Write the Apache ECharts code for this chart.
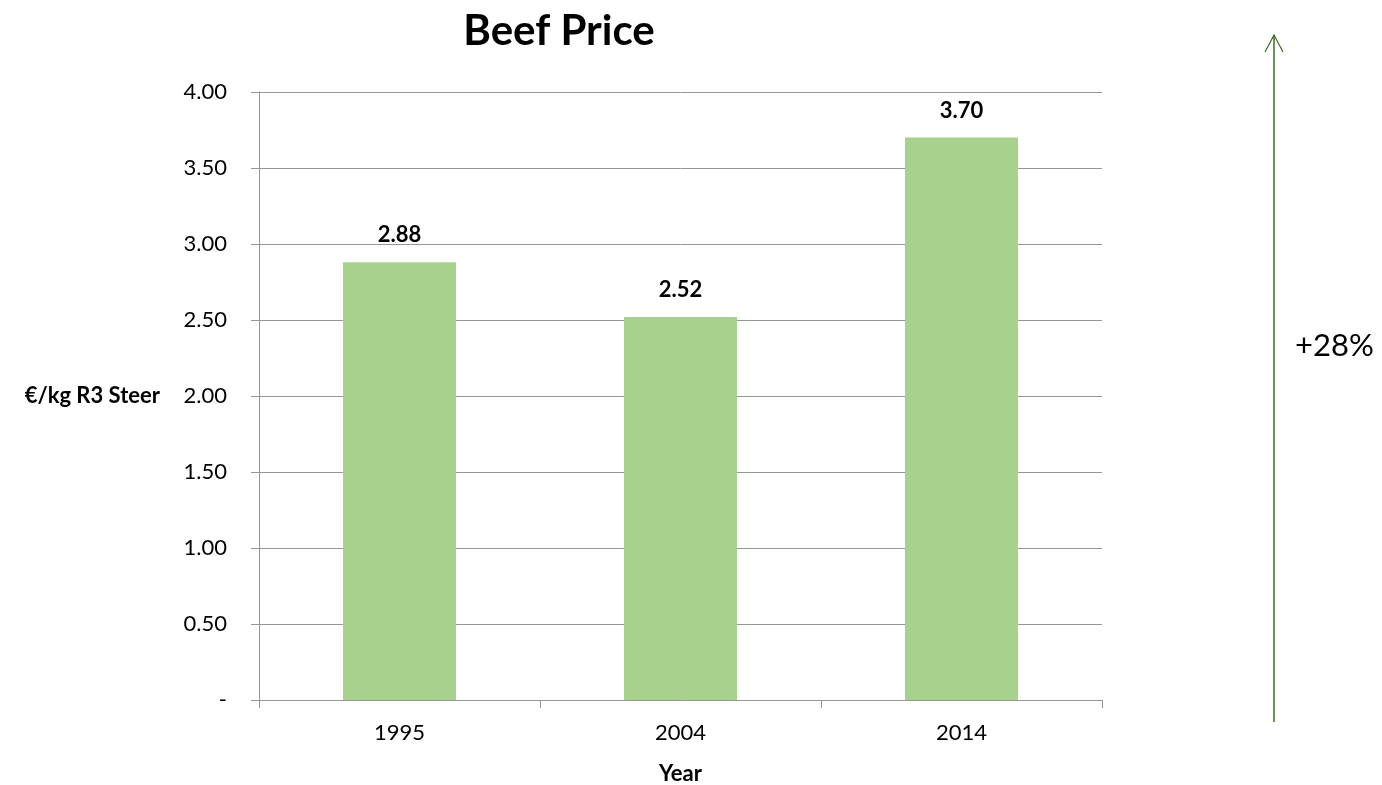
<!DOCTYPE html>
<html>
<head>
<meta charset="utf-8">
<script src="https://cdn.jsdelivr.net/npm/echarts@6/dist/echarts.min.js"></script>
<style>
  html, body { margin: 0; padding: 0; background: #fff; }
  #chart { width: 1382px; height: 785px; }
</style>
</head>
<body>
<div id="chart"></div>
<script>
  // data
  var years = ['1995', '2004', '2014'];
  var prices = [2.88, 2.52, 3.70];
  var changeText = '+28%';

  var font = 'Lato, "Open Sans", sans-serif';
  var myChart = echarts.init(document.getElementById('chart'));

  var options = {
    backgroundColor: '#fff',
    animation: false,
    title: {
      text: 'Beef Price',
      left: 554,
      top: 5,
      textAlign: 'center',
      textStyle: { fontFamily: font, fontSize: 42, fontWeight: 'bold', color: '#000' }
    },
    grid: { left: 259, right: 280, top: 92, bottom: 85, outerBoundsMode: 'none', containLabel: false },
    xAxis: {
      type: 'category',
      data: years,
      name: 'Year',
      nameLocation: 'middle',
      nameGap: 63,
      nameTextStyle: { fontFamily: font, fontSize: 22, fontWeight: 'bold', color: '#000' },
      axisLine: { lineStyle: { color: '#969696', width: 1 } },
      axisTick: { show: true, length: 8, alignWithLabel: false, lineStyle: { color: '#969696' } },
      axisLabel: { fontFamily: font, fontSize: 22, color: '#000', margin: 22 }
    },
    yAxis: {
      type: 'value',
      min: 0,
      max: 4,
      interval: 0.5,
      name: '€/kg R3 Steer',
      nameLocation: 'middle',
      nameRotate: 0,
      nameGap: 99,
      nameTextStyle: { fontFamily: font, fontSize: 22, fontWeight: 'bold', color: '#000', align: 'right' },
      axisLine: { show: true, lineStyle: { color: '#969696', width: 1 } },
      axisTick: { show: true, length: 8, inside: false, lineStyle: { color: '#969696' } },
      splitLine: { lineStyle: { color: '#969696', width: 1 } },
      axisLabel: {
        fontFamily: font, fontSize: 22, color: '#000', margin: 32,
        formatter: function (v) { return v === 0 ? '-' : v.toFixed(2); }
      }
    },
    series: [
      {
        type: 'bar',
        data: prices,
        barWidth: 113,
        itemStyle: { color: '#A9D18E' },
        label: {
          show: true,
          position: 'top',
          distance: 16,
          fontFamily: font, fontSize: 22, fontWeight: 'bold', color: '#000',
          formatter: function (p) { return p.value.toFixed(2); }
        }
      }
    ],
    graphic: [
      {
        type: 'line',
        shape: { x1: 1274, y1: 722, x2: 1274, y2: 35 },
        style: { stroke: '#3B6B1F', lineWidth: 1.5 }
      },
      {
        type: 'polyline',
        shape: { points: [[1265, 52], [1274, 35], [1283, 52]] },
        style: { stroke: '#3B6B1F', lineWidth: 1.2, fill: null }
      },
      {
        type: 'text',
        left: 1295,
        top: 330,
        style: { text: changeText, fontFamily: font, fontSize: 31, fill: '#000' }
      }
    ]
  };
  myChart.setOption(options);
</script>
</body>
</html>
